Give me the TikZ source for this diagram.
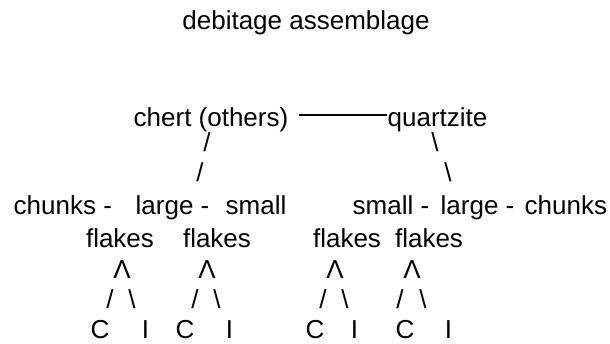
\documentclass[tikz,border=0pt]{standalone}
\usepackage{fontspec}
\setmainfont{Liberation Sans}
\usetikzlibrary{positioning}
\newcommand{\artfont}{\fontsize{13}{15}\selectfont}

\begin{document}
\begin{tikzpicture}[x=0.5pt,y=-0.5pt,line width=0.7pt]
    \tikzstyle{every node}=[font=\artfont,inner sep=0pt,anchor=base]
    \tikzstyle{lft}=[anchor=base west]
    \useasboundingbox (0,0) rectangle (610,343);
    \node (T) at (306,29) {debitage assemblage};
    \node[lft] (CH) at (133,126) {chert (others)};
    \node[lft] (QZ) at (387,126) {quartzite};
    \node (SA) at (207,151) {/};
    \node (SB) at (200,181) {/};
    \node (BA) at (435,151) {\textbackslash};
    \node (BB) at (448,181) {\textbackslash};

    \node[lft] (CKL) at (13,214) {chunks -};
    \node[lft] (LGL) at (135,214) {large -};
    \node[lft] (SML) at (225,214) {small};
    \node[lft] (SMR) at (352,214) {small -};
    \node[lft] (LGR) at (440,214) {large -};
    \node[lft] (CKR) at (524,214) {chunks};

    \node (F1) at (120,247) {flakes};
    \node (F2) at (217,247) {flakes};
    \node (F3) at (347,247) {flakes};
    \node (F4) at (429,247) {flakes};

    \node (A1) at (122,278) {Λ};
    \node (A2) at (207,278) {Λ};
    \node (A3) at (335,278) {Λ};
    \node (A4) at (412,278) {Λ};

    \node (L1) at (110,308) {/};
    \node (R1) at (132,308) {\textbackslash};
    \node (L2) at (195,308) {/};
    \node (R2) at (217,308) {\textbackslash};
    \node (L3) at (323,308) {/};
    \node (R3) at (345,308) {\textbackslash};
    \node (L4) at (400,308) {/};
    \node (R4) at (423,308) {\textbackslash};

    \node (C1) at (100,338) {C};
    \node (I1) [right=15.5pt of C1] {I};
    \node (C2) at (185,338) {C};
    \node (I2) [right=15pt of C2] {I};
    \node (C3) at (315,338) {C};
    \node (I3) [right=12.5pt of C3] {I};
    \node (C4) at (405,338) {C};
    \node (I4) [right=14.5pt of C4] {I};

    \draw ([xshift=5pt,yshift=5.5pt]CH.base east) -- ([yshift=5.5pt]QZ.base west);
\end{tikzpicture}
\end{document}
